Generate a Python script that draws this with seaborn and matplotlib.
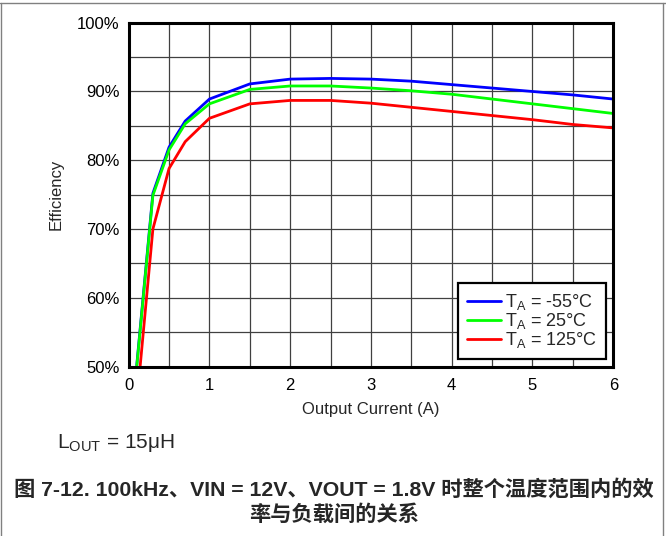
import pandas as pd
import seaborn as sns
import matplotlib.pyplot as plt
from matplotlib.lines import Line2D
from matplotlib.ticker import FuncFormatter, MultipleLocator

# Efficiency vs load
current = [0.1, 0.3, 0.5, 0.7, 1.0, 1.5, 2.0, 2.5, 3.0, 3.5, 4.0, 4.5, 5.0, 5.5, 6.0]
eff_m55 = [50.2, 75.2, 81.9, 85.7, 88.9, 91.1, 91.8, 91.9, 91.8, 91.5, 91.0, 90.5, 90.0, 89.5, 88.9]
eff_25 = [50.0, 74.9, 81.5, 85.3, 88.2, 90.3, 90.8, 90.8, 90.5, 90.1, 89.6, 88.9, 88.2, 87.5, 86.8]
eff_125 = [44.7, 70.0, 78.8, 82.7, 86.1, 88.2, 88.7, 88.7, 88.3, 87.7, 87.1, 86.5, 85.9, 85.2, 84.7]

labels = [r"T$_\mathregular{A}$ = -55°C", r"T$_\mathregular{A}$ = 25°C", r"T$_\mathregular{A}$ = 125°C"]
colors = ["#0000ff", "#00ff00", "#ff0000"]
x_ticks = [0, 1, 2, 3, 4, 5, 6]
y_ticks = [50, 60, 70, 80, 90, 100]

rows = []
for lab, vals in zip(labels, [eff_m55, eff_25, eff_125]):
    for c, e in zip(current, vals):
        rows.append({"current": c, "eff": e, "temp": lab})
df = pd.DataFrame(rows)

sns.set_style("white")
plt.rcParams["font.family"] = ["Liberation Sans", "Noto Sans CJK SC", "DejaVu Sans"]
plt.rcParams["mathtext.fontset"] = "custom"
plt.rcParams["mathtext.rm"] = "Liberation Sans"

fig = plt.figure(figsize=(6.66, 5.36), dpi=100)
ax = fig.add_axes([0.1932, 0.3162, 0.7276, 0.6414])

sns.lineplot(data=df, x="current", y="eff", hue="temp", palette=colors,
             hue_order=labels, linewidth=2, ax=ax, legend=False, zorder=3)

ax.set_xlim(0, 6)
ax.set_ylim(50, 100)
ax.set_xticks(x_ticks)
ax.set_yticks(y_ticks)
ax.xaxis.set_minor_locator(MultipleLocator(0.5))
ax.yaxis.set_minor_locator(MultipleLocator(5))
ax.yaxis.set_major_formatter(FuncFormatter(lambda v, p: f"{v:.0f}%"))
ax.grid(True, which="both", color="#404040", linewidth=0.9)
ax.set_axisbelow(True)
ax.tick_params(axis="both", which="both", length=0, labelsize=12, colors="black")
ax.tick_params(axis="x", pad=8)
ax.tick_params(axis="y", pad=6.5)
for s in ax.spines.values():
    s.set_linewidth(2.2)
    s.set_color("black")
    s.set_zorder(4)

ax.set_xlabel("Output Current (A)", fontsize=12, labelpad=7)
ax.set_ylabel("Efficiency", fontsize=12, labelpad=10)

handles = [Line2D([], [], color=c, linewidth=2) for c in colors]
leg = ax.legend(handles, labels, loc="lower right", bbox_to_anchor=(0.9843, 0.0209),
                borderaxespad=0, fontsize=13, handlelength=1.88, handletextpad=0.19,
                labelspacing=-0.05, borderpad=0.5, fancybox=False, framealpha=1)
leg.get_frame().set_edgecolor("black")
leg.get_frame().set_linewidth(1.6)
leg.set_zorder(5)

fig.text(56.7 / 666, 1 - 448 / 536, r"L$_\mathregular{OUT}$ = 15μH", fontsize=15, va="baseline")
fig.text(0.5015, 1 - 496 / 536, "图 7-12. 100kHz、VIN = 12V、VOUT = 1.8V 时整个温度范围内的效",
         fontsize=15.3, fontweight="bold", ha="center", va="baseline")
fig.text(0.5015, 1 - 521 / 536, "率与负载间的关系",
         fontsize=15.3, fontweight="bold", ha="center", va="baseline")

# thin gray frame around the figure panel
frame_kw = dict(color="#808080", linewidth=1.0, transform=fig.transFigure)
fig.add_artist(Line2D([0, 1], [1 - 3.3 / 536] * 2, **frame_kw))
fig.add_artist(Line2D([1 / 666] * 2, [0, 1 - 3.3 / 536], **frame_kw))
fig.add_artist(Line2D([662.5 / 666] * 2, [0, 1 - 3.3 / 536], **frame_kw))

fig.savefig("out.png", dpi=100)
